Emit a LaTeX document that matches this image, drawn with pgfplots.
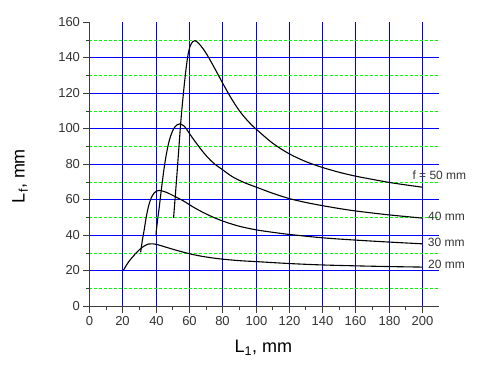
\documentclass[border=0pt]{standalone}
\usepackage{fontspec}
\setmainfont{Liberation Sans}
\usepackage{pgfplots}
\pgfplotsset{compat=1.18}
\definecolor{gridblue}{RGB}{0,0,255}
\definecolor{gridgreen}{RGB}{0,255,0}
\definecolor{axgray}{RGB}{60,60,60}
\begin{document}
\begin{tikzpicture}
\path[use as bounding box] (-89.5pt,-60.5pt) rectangle (390.5pt,306.5pt);
\begin{axis}[
  scale only axis, width=349.65pt, height=284pt,
  xmin=0, xmax=210, ymin=0, ymax=160,
  axis lines*=left,
  axis line style={axgray, line width=1pt},
  clip=false,
  xtick={19.820,40.240,60.060,79.880,100.300,120.120,139.940,159.760,180.180,200.000},
  xticklabels={20,40,60,80,100,120,140,160,180,200},
  extra x ticks={0}, extra x tick labels={0}, extra x tick style={grid=none},
  ytick={20.282,40,60.282,80,100.282,120,140.282},
  yticklabels={20,40,60,80,100,120,140},
  extra y ticks={0,160}, extra y tick labels={0,160}, extra y tick style={grid=none},
  minor xtick={10.210,30.030,49.850,70.270,90.090,109.910,129.730,150.150,169.970,189.790},
  minor ytick={10.141,29.859,50.141,69.859,90.141,109.859,130.141,149.859},
  xmajorgrids=true, ymajorgrids=true, xminorgrids=false, yminorgrids=true,
  major grid style={draw=gridblue},
  minor grid style={draw=gridgreen, dash pattern=on 3pt off 2pt},
  x grid style={line width=1pt},
  y grid style={line width=1.4pt},
  tick align=outside,
  major tick length=6pt, minor tick length=3pt,
  tick style={axgray, line width=1pt},
  /pgf/number format/assume math mode=true,
  tick label style={font=\fontsize{13}{15}\selectfont, text=black!80},
  xlabel={L\textsubscript{1}, mm},
  ylabel={L\textsubscript{f}, mm},
  label style={font=\fontsize{18}{20}\selectfont},
  xlabel style={at={(axis description cs:0.4976,-0.146)}, anchor=center},
  ylabel style={at={(axis description cs:-0.1988,0.4595)}, anchor=center},
]
\addplot[black, line width=1.1pt, smooth, tension=0.5] coordinates {
(20.3,20.3) (22,23) (24,25.8) (26,28) (28,30.2) (30.5,32.4) (33,34.2) (35.5,35.2)
(38,35.3) (41,34.8) (46,33.4) (51,32) (56,30.7) (62,29.3) (68,28.2) (76,27.1)
(84,26.3) (92,25.7) (100,25.3) (120,24.2) (140,23.4) (160,22.9) (180,22.5) (200,22.2)};
\addplot[black, line width=1.1pt, smooth, tension=0.5] coordinates {
(30.7,30.5) (31.7,37) (32.9,43.5) (34.2,51) (35.6,57) (37,61) (38.7,63.8) (40.5,65.1)
(42,65.4) (46,64.4) (50,62.6) (56,59.7) (62,56.2) (68,53.1) (75,50) (82,47.5)
(90,45.2) (100,43.2) (110,41.8) (120,40.6) (140,38.7) (160,37.4) (180,36.3) (200,35.3)};
\addplot[black, line width=1.1pt, smooth, tension=0.5] coordinates {
(39.9,40.5) (40.8,48) (41.9,56) (43.3,67) (44.9,78.5) (46.3,86.5) (47.9,93.5)
(49.5,98) (51,100.8) (52.5,102.3) (54.2,102.9) (57,101.5) (60,97.5) (63,93.5)
(67,88.5) (71,84) (75,80.4) (80,77) (86,73) (93,69.8) (100,67.3) (110,63.8)
(120,60.8) (130,58.6) (140,56.8) (150,55.2) (160,53.8) (180,51.6) (200,49.8)};
\addplot[black, line width=1.1pt, smooth, tension=0.5] coordinates {
(50.5,50) (52,68) (53.5,87) (54.9,104.8) (56.5,121) (58,134) (59.3,142.5)
(60.5,146.8) (62,149.2) (63.4,149.8) (65.5,148.3) (68,145.5) (71,141.2) (75,134.5)
(80,125.8) (85,117.5) (90,110.3) (95,104.6) (100,100) (110,92) (120,86) (130,81.6)
(140,78.3) (150,75.6) (160,73.4) (170,71.6) (180,69.9) (190,68.5) (200,67.2)};
\node[anchor=west, inner sep=0pt, font=\fontsize{12}{14}\selectfont, text=black!80] at (axis cs:193.9,73.7) {f = 50 mm};
\node[anchor=west, inner sep=0pt, font=\fontsize{12}{14}\selectfont, text=black!80] at (axis cs:203.3,50.6) {40 mm};
\node[anchor=west, inner sep=0pt, font=\fontsize{12}{14}\selectfont, text=black!80] at (axis cs:203.1,36.2) {30 mm};
\node[anchor=west, inner sep=0pt, font=\fontsize{12}{14}\selectfont, text=black!80] at (axis cs:203.3,23.8) {20 mm};
\end{axis}
\end{tikzpicture}
\end{document}
